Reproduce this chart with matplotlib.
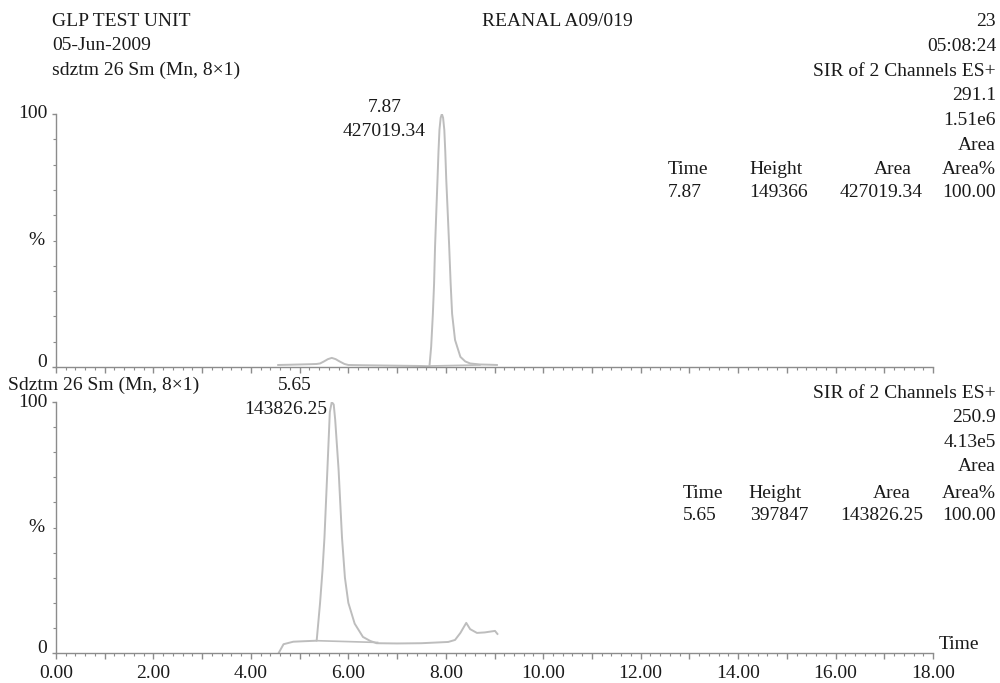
import matplotlib
matplotlib.use("Agg")
import matplotlib.pyplot as plt
from matplotlib.ticker import MultipleLocator, FuncFormatter

# ---------------- data ----------------
# Upper chromatogram (SIR 291.1) - time (min), relative intensity (%)
top_time = [4.56, 4.80, 5.00, 5.20, 5.35, 5.42, 5.50, 5.58, 5.66, 5.74, 5.82, 5.92, 6.00,
            6.30, 6.70, 7.10, 7.50, 7.665, 7.70, 7.735, 7.76, 7.78, 7.805, 7.83, 7.85,
            7.87, 7.895, 7.92, 7.945, 7.97, 7.99, 8.01, 8.04, 8.07, 8.10, 8.13, 8.19,
            8.30, 8.40, 8.50, 8.70, 8.90, 9.05]
top_int = [0.8, 0.9, 1.0, 1.1, 1.2, 1.4, 2.2, 3.1, 3.6, 3.1, 2.2, 1.2, 0.8,
           0.7, 0.6, 0.5, 0.4, 0.3, 8.0, 21.0, 33.0, 47.6, 61.0, 74.0, 85.0,
           93.7, 98.5, 100.0, 98.5, 93.7, 85.0, 74.0, 61.0, 47.6, 33.0, 21.0, 10.7,
           4.0, 2.2, 1.4, 1.0, 0.9, 0.8]
top_base_time = [7.665, 8.70]
top_base_int = [0.4, 0.8]

# Lower chromatogram (SIR 250.9)
bot_time = [4.57, 4.67, 4.87, 5.10, 5.35, 5.42, 5.47, 5.51, 5.57, 5.62, 5.66, 5.70,
            5.73, 5.80, 5.87, 5.93, 6.00, 6.13, 6.30, 6.45, 6.58, 7.00, 7.50, 8.05,
            8.19, 8.30, 8.42, 8.50, 8.64, 8.80, 9.01, 9.06]
bot_int = [0.0, 3.5, 4.5, 4.7, 4.9, 20.0, 33.0, 46.0, 73.0, 96.0, 100.0, 99.0,
           93.0, 73.0, 46.0, 30.0, 20.0, 11.7, 6.4, 4.8, 3.9, 3.8, 3.9, 4.4,
           5.2, 8.0, 12.0, 9.5, 8.0, 8.2, 8.8, 7.6]
bot_base_time = [5.35, 6.60]
bot_base_int = [4.9, 4.2]

x_ticks = [0, 2, 4, 6, 8, 10, 12, 14, 16, 18]

header_left = ["GLP TEST UNIT", "05-Jun-2009", "sdztm 26 Sm (Mn, 8\u00d71)"]
header_center = "REANAL A09/019"
top_right = ["23", "05:08:24", "SIR of 2 Channels ES+", "291.1", "1.51e6", "Area"]
bot_right = ["SIR of 2 Channels ES+", "250.9", "4.13e5", "Area"]
table_head = ["Time", "Height", "Area", "Area%"]
top_row = ["7.87", "149366", "427019.34", "100.00"]
bot_row = ["5.65", "397847", "143826.25", "100.00"]
top_peak_label = ["7.87", "427019.34"]
bot_peak_label = ["5.65", "143826.25"]
bot_title = "Sdztm 26 Sm (Mn, 8\u00d71)"

# ---------------- style ----------------
W, H = 1000, 683
plt.rcParams['font.family'] = ['Liberation Serif', 'DejaVu Serif']
FS = 14
TXT = '#1a1a1a'
AX = '#8c8c8c'
TRACE = '#bdbdbd'

fig = plt.figure(figsize=(W / 100, H / 100), dpi=100)


def fx(px):
    return px / W


def fy(py):
    return 1 - py / H


x0, x1 = 56, 933
ax_top = fig.add_axes([fx(x0), fy(367), fx(x1 - x0), (367 - 114) / H])
ax_bot = fig.add_axes([fx(x0), fy(653), fx(x1 - x0), (653 - 402) / H])

for ax, t, y, bt, by in [(ax_top, top_time, top_int, top_base_time, top_base_int),
                         (ax_bot, bot_time, bot_int, bot_base_time, bot_base_int)]:
    ax.plot(t, y, color=TRACE, lw=1.4, solid_joinstyle='round')
    ax.plot(bt, by, color=TRACE, lw=1.2)
    ax.set_xlim(0, 18)
    ax.set_ylim(0, 100)
    ax.patch.set_alpha(0)
    for s in ['top', 'right']:
        ax.spines[s].set_visible(False)
    for s in ['left', 'bottom']:
        ax.spines[s].set_color(AX)
        ax.spines[s].set_linewidth(1.0)
    ax.xaxis.set_major_locator(MultipleLocator(1))
    ax.xaxis.set_minor_locator(MultipleLocator(0.2))
    ax.set_yticks([0, 100])
    ax.set_yticklabels(['', ''])
    ax.yaxis.set_minor_locator(MultipleLocator(10))
    ax.tick_params(axis='x', which='major', length=4, width=1, color=AX,
                   labelsize=FS, labelcolor=TXT, pad=5)
    ax.tick_params(axis='x', which='minor', length=2, width=0.8, color=AX)
    ax.tick_params(axis='y', which='major', length=3, width=1, color=AX)
    ax.tick_params(axis='y', which='minor', length=2.5, width=0.8, color=AX)
    ytr = ax.get_yaxis_transform()
    ax.text(-0.022, 50, '%', transform=ytr, ha='center', va='center', fontsize=FS, color=TXT)
    ax.text(-0.010, 100, '100', transform=ytr, ha='right', va='center', fontsize=FS, color=TXT)
    ax.text(-0.010, 1.8, '0', transform=ytr, ha='right', va='center', fontsize=FS, color=TXT)

ax_top.xaxis.set_major_formatter(FuncFormatter(lambda v, p: ''))
ax_bot.xaxis.set_major_formatter(
    FuncFormatter(lambda v, p: f"{v:.2f}" if round(v) in x_ticks and abs(v - round(v)) < 1e-6 else ''))
ax_bot.text(1.006, 0.032, 'Time', transform=ax_bot.transAxes, ha='left', va='center',
            fontsize=FS, color=TXT)

# ---------------- header texts ----------------
for i, s in enumerate(header_left):
    fig.text(fx(52), fy(22 + 24 * i), s, ha='left', va='center', fontsize=FS, color=TXT)
fig.text(fx(557), fy(21), header_center, ha='center', va='center', fontsize=FS, color=TXT)

for i, s in enumerate(top_right):
    fig.text(fx(996), fy(22 + 24.6 * i), s, ha='right', va='center', fontsize=FS, color=TXT)
for i, s in enumerate(bot_right):
    fig.text(fx(996), fy(393 + 24.6 * i), s, ha='right', va='center', fontsize=FS, color=TXT)

# tables
col_head_x = [(688, 'center'), (776, 'center'), (912, 'right'), (996, 'right')]
top_val_x = [(685, 'center'), (779, 'center'), (923, 'right'), (996, 'right')]
bot_head_x = [(703, 'center'), (775, 'center'), (911, 'right'), (996, 'right')]
bot_val_x = [(700, 'center'), (779, 'center'), (923, 'right'), (996, 'right')]
for (x, ha), s in zip(col_head_x, table_head):
    fig.text(fx(x), fy(169), s, ha=ha, va='center', fontsize=FS, color=TXT)
for (x, ha), s in zip(top_val_x, top_row):
    fig.text(fx(x), fy(193), s, ha=ha, va='center', fontsize=FS, color=TXT)
for (x, ha), s in zip(bot_head_x, table_head):
    fig.text(fx(x), fy(493), s, ha=ha, va='center', fontsize=FS, color=TXT)
for (x, ha), s in zip(bot_val_x, bot_row):
    fig.text(fx(x), fy(516), s, ha=ha, va='center', fontsize=FS, color=TXT)

# peak labels
fig.text(fx(385), fy(108), top_peak_label[0], ha='center', va='center', fontsize=FS, color=TXT)
fig.text(fx(384), fy(132), top_peak_label[1], ha='center', va='center', fontsize=FS, color=TXT)
fig.text(fx(295), fy(385), bot_peak_label[0], ha='center', va='center', fontsize=FS, color=TXT)
fig.text(fx(286), fy(409), bot_peak_label[1], ha='center', va='center', fontsize=FS, color=TXT)
fig.text(fx(8), fy(385), bot_title, ha='left', va='center', fontsize=FS, color=TXT)

fig.savefig('out.png', dpi=100)
